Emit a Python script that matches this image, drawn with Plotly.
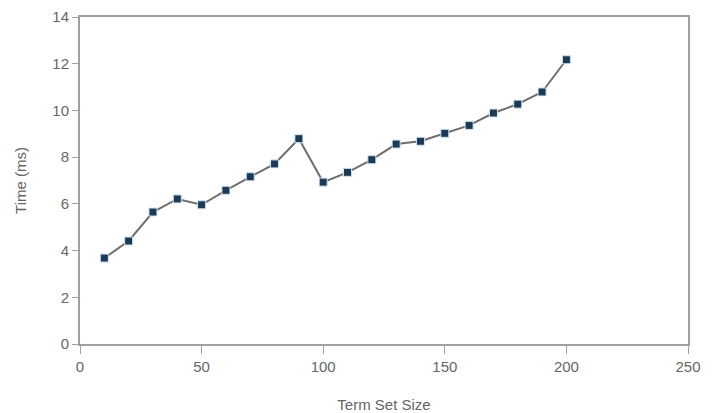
import plotly.graph_objects as go

term_set_size = [10, 20, 30, 40, 50, 60, 70, 80, 90, 100, 110, 120, 130, 140, 150, 160, 170, 180, 190, 200]
time_ms = [3.68, 4.41, 5.65, 6.21, 5.96, 6.58, 7.16, 7.71, 8.79, 6.93, 7.35, 7.89, 8.56, 8.68, 9.02, 9.36, 9.89, 10.27, 10.79, 12.17]

FONT = "Liberation Sans, Arial, sans-serif"

fig = go.Figure()
fig.add_trace(go.Scatter(
    x=term_set_size, y=time_ms, mode="lines+markers",
    line=dict(color="#6e6e6e", width=2),
    marker=dict(symbol="square", size=8, color="#1b3a57",
                line=dict(color="#cfe3ef", width=1)),
    showlegend=False,
))

axis_common = dict(
    showline=True, linecolor="#a0a0a0", linewidth=2, mirror=True,
    ticks="outside", tickcolor="#a0a0a0", tickwidth=1,
    showgrid=False, zeroline=False, automargin=False,
    tickfont=dict(family=FONT, size=15, color="#666666"),
)

# page body has an 8px margin, so the figure is 8px smaller and offsets compensate
fig.update_layout(
    width=711, height=405,
    margin=dict(l=72, r=31, t=9, b=69),
    paper_bgcolor="white", plot_bgcolor="white",
    xaxis=dict(range=[0, 250], dtick=50, ticklen=8,
               title=dict(text="Term Set Size", standoff=27,
                          font=dict(family=FONT, size=15, color="#666666")),
               **axis_common),
    yaxis=dict(range=[0, 14], dtick=2, ticklen=6,
               title=dict(text="Time (ms)", standoff=22,
                          font=dict(family=FONT, size=15, color="#666666")),
               **axis_common),
)

fig.write_html("out.html")
